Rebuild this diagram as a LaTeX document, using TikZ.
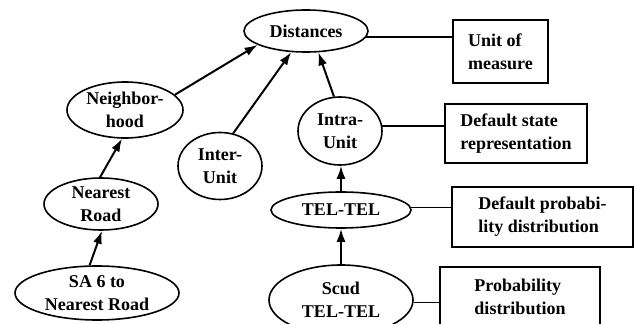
\documentclass[tikz,border=0pt]{standalone}
\usepackage{fontspec}
\setmainfont{Liberation Serif}
\usetikzlibrary{shapes.geometric,arrows.meta}
\begin{document}
\begin{tikzpicture}[x=1pt,y=1pt,
  every node/.style={font=\fontsize{18}{23}\selectfont\bfseries},
  ell/.style={ellipse,draw,line width=1.6pt,inner sep=0pt,align=center},
  infobox/.style={rectangle,draw,line width=1.6pt,inner sep=0pt,align=left},
  arr/.style={line width=2pt,-{Latex[length=13pt,width=9pt]}},
  link/.style={line width=1.8pt}]
\useasboundingbox (0,0) rectangle (635,324);
\clip (0,0) rectangle (635,324);
% ellipses
\node[ell,minimum width=124pt,minimum height=42pt] (dist) at (306,293) {Distances};
\node[ell,minimum width=116pt,minimum height=56pt] (nb) at (125,214) {Neighbor-\\hood};
\node[ell,minimum width=84pt,minimum height=67pt] (inter) at (220,158) {Inter-\\Unit};
\node[ell,minimum width=84pt,minimum height=68pt] (intra) at (340,193) {Intra-\\Unit};
\node[ell,minimum width=140pt,minimum height=36pt] (tel) at (341,114) {TEL-TEL};
\node[ell,minimum width=144pt,minimum height=70pt] (scud) at (341,24) {Scud\\TEL-TEL};
\node[ell,minimum width=114pt,minimum height=52pt] (nr) at (101,120) {Nearest\\Road};
\node[ell,minimum width=164pt,minimum height=54pt] (sa) at (97,31) {SA 6 to\\Nearest Road};
% boxes
\node[infobox,minimum width=95pt,minimum height=63pt] (unit) at (500.5,272.5) {Unit of\\measure};
\node[infobox,minimum width=142pt,minimum height=59pt] (dsr) at (516,190.5) {Default state\\representation};
\node[infobox,minimum width=181pt,minimum height=60pt] (dpd) at (542.5,107) {Default probabi-\\lity distribution};
\node[infobox,minimum width=160pt,minimum height=60pt] (pd) at (520,27) {Probability\\distribution};
% arrows
\draw[arr] (nb.17) -- (dist.196);
\draw[arr] (inter.68) -- (dist.235);
\draw[arr] (intra.100) -- (dist.300);
\draw[arr] (tel.north) -- (tel.north |- intra.south);
\draw[arr] (scud.north) -- (scud.north |- tel.south);
\draw[arr] (nr.92) -- (nb.264);
\draw[arr] (sa.105) -- (nr.272);
% attribute links
\draw[link] (dist.-6) -- (dist.-6 -| unit.west);
\draw[link] (intra.7) -- (intra.7 -| dsr.west);
\draw[link] (tel.2) -- (tel.2 -| dpd.west);
\draw[link] (scud.-2) -- (scud.-2 -| pd.west);
\end{tikzpicture}
\end{document}
